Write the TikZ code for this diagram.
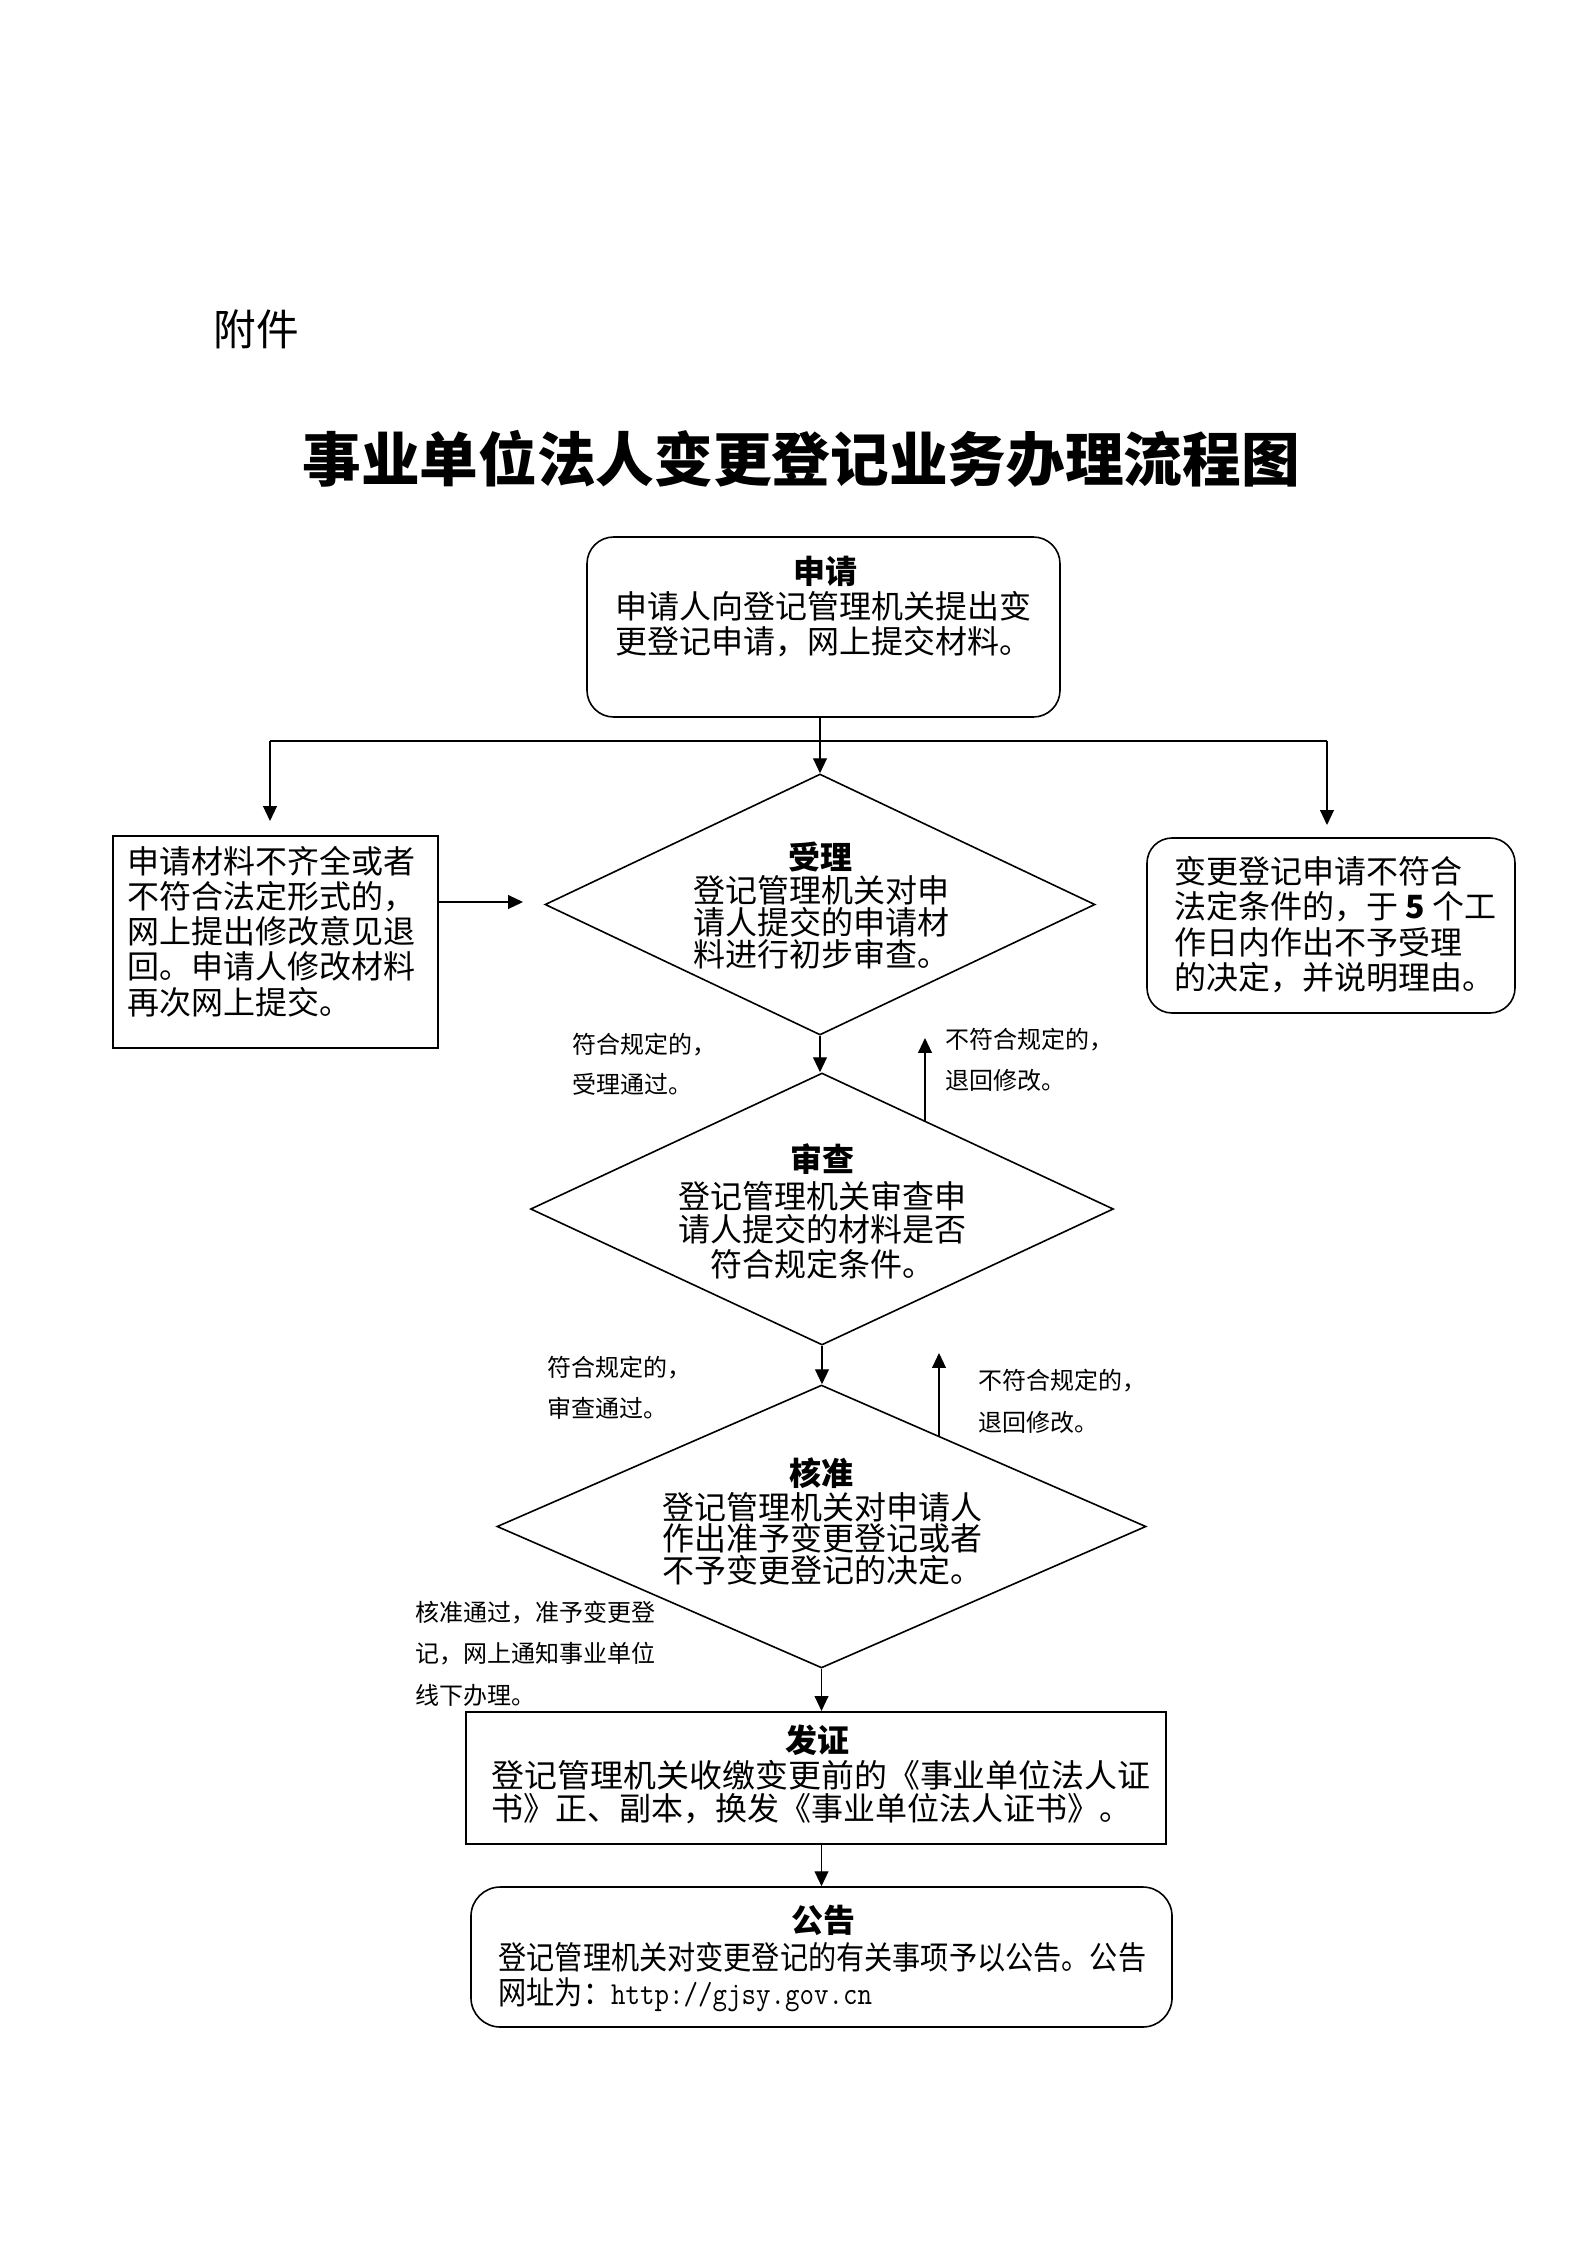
\documentclass[tikz,border=0pt]{standalone}
\usepackage{fontspec}
\usepackage{graphicx}
\setmainfont{Noto Sans CJK SC}
\usetikzlibrary{shapes.geometric,arrows.meta}
\tikzset{
  conn/.style={line width=0.5pt},
  arr/.style={conn,-{Triangle[length=5.6pt,width=5.2pt]}},
  rbox/.style={draw,line width=0.6pt,rounded corners=10pt,inner sep=0pt},
  sbox/.style={draw,line width=0.8pt,inner sep=0pt},
  dia/.style={draw,diamond,line width=0.6pt,inner sep=0pt},
  body/.style={inner sep=0pt,anchor=base west,font=\fontsize{12pt}{14pt}\selectfont},
  bodyc/.style={body,anchor=base},
  head/.style={inner sep=0pt,anchor=base,font=\fontsize{12pt}{14pt}\selectfont\bfseries},
  lab/.style={inner sep=0pt,anchor=base west,font=\fontsize{9pt}{11pt}\selectfont},
}
\begin{document}
\begin{tikzpicture}[x=0.375pt,y=-0.375pt]
\fill[white] (0,0) rectangle (1587,2245);
\useasboundingbox (0,0) rectangle (1587,2245);

% headings
\node[inner sep=0pt,anchor=base,font=\fontsize{16pt}{18pt}\selectfont] (fj) at (256,345) {附件};
\node[inner sep=0pt,anchor=base,font=\fontsize{22pt}{26pt}\selectfont\bfseries] (title) at (801,481) {事业单位法人变更登记业务办理流程图};

% shapes
\node[rbox,minimum width=177.375pt,minimum height=67.5pt] (apply) at (823.5,627) {};
\node[sbox,minimum width=121.875pt,minimum height=79.5pt] (leftbox) at (275.5,942) {};
\node[rbox,rounded corners=9.4pt,minimum width=138pt,minimum height=65.625pt] (rightbox) at (1331,925.5) {};
\node[dia,minimum width=206.25pt,minimum height=97.875pt] (d1) at (820,904.5) {};
\node[dia,minimum width=218.6pt,minimum height=102pt] (d2) at (822,1209) {};
\node[dia,minimum width=243.4pt,minimum height=106.1pt] (d3) at (821.5,1526.5) {};
\node[sbox,minimum width=262.5pt,minimum height=49.5pt] (cert) at (816,1778) {};
\node[rbox,rounded corners=11pt,minimum width=262.9pt,minimum height=52.5pt] (notice) at (821.5,1957) {};

% texts: apply
\node[head] (applyh) at (825,583) {申请};
\node[body] (apply1) at (615,618) {申请人向登记管理机关提出变};
\node[body] (apply2) at (615,653) {更登记申请，网上提交材料。};

% left box
\node[body] (lb1) at (127,873) {申请材料不齐全或者};
\node[body] (lb2) at (127,908) {不符合法定形式的，};
\node[body] (lb3) at (127,943) {网上提出修改意见退};
\node[body] (lb4) at (127,978) {回。申请人修改材料};
\node[body] (lb5) at (127,1014) {再次网上提交。};

% right box
\node[body] (rb1) at (1174,883) {变更登记申请不符合};
\node[body] (rb2) at (1174,918) {法定条件的，于 {\bfseries 5} 个工};
\node[body] (rb3) at (1174,954) {作日内作出不予受理};
\node[body] (rb4) at (1174,989) {的决定，并说明理由。};

% d1
\node[head] (d1h) at (820,869) {受理};
\node[body] (d1a) at (693,902) {登记管理机关对申};
\node[body] (d1b) at (693,934) {请人提交的申请材};
\node[body] (d1c) at (693,966) {料进行初步审查。};

% d2
\node[head] (d2h) at (822,1171) {审查};
\node[bodyc] (d2a) at (822,1208) {登记管理机关审查申};
\node[bodyc] (d2b) at (822,1241) {请人提交的材料是否};
\node[bodyc] (d2c) at (822,1276) {符合规定条件。};

% d3
\node[head] (d3h) at (821,1485) {核准};
\node[body] (d3a) at (662,1519) {登记管理机关对申请人};
\node[body] (d3b) at (662,1550) {作出准予变更登记或者};
\node[body] (d3c) at (662,1582) {不予变更登记的决定。};

% cert
\node[head] (certh) at (817,1752) {发证};
\node[body] (cert1) at (491,1787) {\scalebox{1.03}[1]{登记管理机关收缴变更前的《事业单位法人证}};
\node[body] (cert2) at (491,1820) {书》正、副本，换发《事业单位法人证书》。};

% notice
\node[head] (noticeh) at (823,1932) {公告};
\node[body] (notice1) at (498,1969) {\scalebox{0.88}[1]{登记管理机关对变更登记的有关事项予以公告。公告}};
\node[body] (notice2) at (498,2004) {\scalebox{0.88}[1]{网址为：{\ttfamily http://gjsy.gov.cn}}};

% labels
\node[lab] (l1a) at (572,1053) {符合规定的，};
\node[lab] (l1b) at (572,1093) {受理通过。};
\node[lab] (r1a) at (945,1048) {不符合规定的，};
\node[lab] (r1b) at (945,1089) {退回修改。};
\node[lab] (l2a) at (547,1376) {符合规定的，};
\node[lab] (l2b) at (547,1417) {审查通过。};
\node[lab] (r2a) at (978,1389) {不符合规定的，};
\node[lab] (r2b) at (978,1431) {退回修改。};
\node[lab] (l3a) at (415,1621) {核准通过，准予变更登};
\node[lab] (l3b) at (415,1662) {记，网上通知事业单位};
\node[lab] (l3c) at (415,1704) {线下办理。};

% connector coordinates
\coordinate (jL) at (270,741);
\coordinate (jR) at (1327,741);
\coordinate (jLt) at (270,821);
\coordinate (jRt) at (1327,825);
\coordinate (lbo) at (438,902);
\coordinate (lbt) at (523,902);
\coordinate (u1a) at (925,1121);
\coordinate (u1b) at (925,1038);
\coordinate (u2a) at (939,1436);
\coordinate (u2b) at (939,1353);

% connectors
\draw[arr] (d1.north |- apply.south) -- (d1.north);
\draw[conn] (jL) -- (jR);
\draw[arr] (jL) -- (jLt);
\draw[arr] (jR) -- (jRt);
\draw[arr] (lbo) -- (lbt);
\draw[arr] (d1.south) -- (d1.south |- d2.north);
\draw[arr] (u1a) -- (u1b);
\draw[arr] (d2.south) -- (d2.south |- d3.north);
\draw[arr] (u2a) -- (u2b);
\draw[arr] (d3.south) -- (d3.south |- cert.north);
\draw[arr] (notice.north |- cert.south) -- (notice.north);
\end{tikzpicture}
\end{document}
